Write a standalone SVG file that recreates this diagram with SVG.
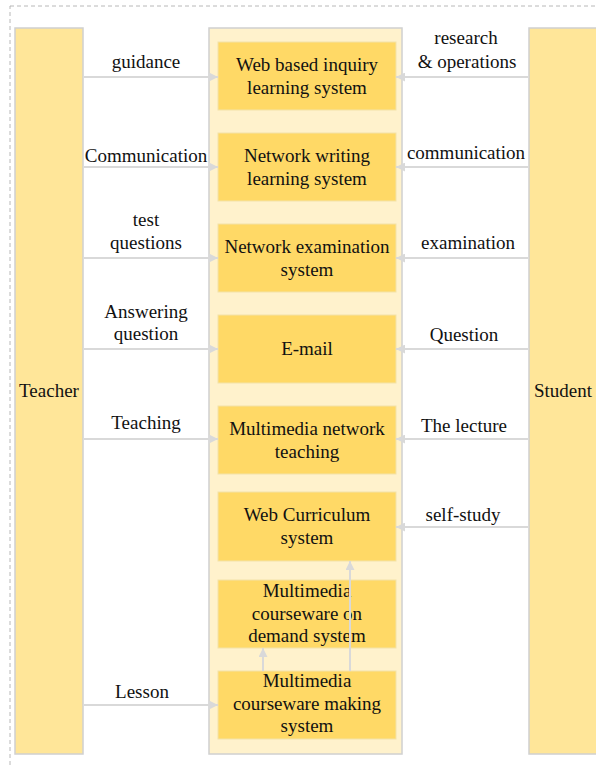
<svg xmlns="http://www.w3.org/2000/svg" width="596" height="765" viewBox="0 0 596 765" font-family="'Liberation Serif', 'Times New Roman', Times, serif">
<defs>
<marker id="ah" viewBox="0 0 10 10" refX="10" refY="5" markerWidth="4.5" markerHeight="4.5" orient="auto" markerUnits="strokeWidth">
<path d="M0,0 L10,5 L0,10 z" fill="#d9d9d9"/>
</marker>
</defs>
<style>
text{font-family:'Liberation Serif','Times New Roman',Times,serif;font-size:19px;fill:#111;text-anchor:middle}
.actor{fill:#FFE699;stroke:#d0d0d0;stroke-width:1.5}
.cont{fill:#FFF2CC;stroke:#d0d0d0;stroke-width:1.5}
.box{fill:#FFD966;stroke:#F3E2A8;stroke-width:1}
.conn{stroke:#d9d9d9;stroke-width:2;fill:none;marker-end:url(#ah)}
</style>
<rect x="10" y="6" width="600" height="770" fill="none" stroke="#b8b8b8" stroke-width="1" stroke-dasharray="4,3"/>
<g id="teacher">
<rect class="actor" x="15" y="28" width="68" height="726"/>
<text x="49" y="397">Teacher</text>
</g>
<g id="student">
<rect class="actor" x="529" y="28" width="80" height="726"/>
<text x="563" y="397">Student</text>
</g>
<g id="platform">
<rect class="cont" x="209" y="28" width="193" height="726"/>
</g>
<g id="box1">
<rect class="box" x="218" y="42" width="178" height="68"/>
<text x="307" y="71">Web based inquiry</text>
<text x="307" y="94">learning system</text>
</g>
<g id="box2">
<rect class="box" x="218" y="133" width="178" height="68"/>
<text x="307" y="162">Network writing</text>
<text x="307" y="185">learning system</text>
</g>
<g id="box3">
<rect class="box" x="218" y="224" width="178" height="68"/>
<text x="307" y="253">Network examination</text>
<text x="307" y="276">system</text>
</g>
<g id="box4">
<rect class="box" x="218" y="315" width="178" height="68"/>
<text x="307" y="355">E-mail</text>
</g>
<g id="box5">
<rect class="box" x="218" y="406" width="178" height="68"/>
<text x="307" y="435">Multimedia network</text>
<text x="307" y="458">teaching</text>
</g>
<g id="box6">
<rect class="box" x="218" y="492" width="178" height="69"/>
<text x="307" y="521">Web Curriculum</text>
<text x="307" y="544">system</text>
</g>
<g id="box7">
<rect class="box" x="218" y="580" width="178" height="68"/>
<text x="307" y="597">Multimedia</text>
<text x="307" y="620">courseware on</text>
<text x="307" y="642">demand system</text>
</g>
<g id="box8">
<rect class="box" x="218" y="671" width="178" height="68"/>
<text x="307" y="687">Multimedia</text>
<text x="307" y="710">courseware making</text>
<text x="307" y="732">system</text>
</g>
<g id="connectors">
<line class="conn" x1="84" y1="77" x2="218" y2="77"/>
<line class="conn" x1="84" y1="167" x2="218" y2="167"/>
<line class="conn" x1="84" y1="258" x2="218" y2="258"/>
<line class="conn" x1="84" y1="349" x2="218" y2="349"/>
<line class="conn" x1="84" y1="439" x2="218" y2="439"/>
<line class="conn" x1="84" y1="705" x2="218" y2="705"/>
<line class="conn" x1="528" y1="77" x2="396" y2="77"/>
<line class="conn" x1="528" y1="167" x2="396" y2="167"/>
<line class="conn" x1="528" y1="258" x2="396" y2="258"/>
<line class="conn" x1="528" y1="349" x2="396" y2="349"/>
<line class="conn" x1="528" y1="439" x2="396" y2="439"/>
<line class="conn" x1="528" y1="527" x2="396" y2="527"/>
<line class="conn" x1="263" y1="671" x2="263" y2="648"/>
<line class="conn" x1="350" y1="671" x2="350" y2="561"/>
<text x="146" y="68">guidance</text>
<text x="146" y="162">Communication</text>
<text x="146" y="226">test</text>
<text x="146" y="249">questions</text>
<text x="146" y="318">Answering</text>
<text x="146" y="340">question</text>
<text x="146" y="429">Teaching</text>
<text x="142" y="698">Lesson</text>
<text x="466" y="44">research</text>
<text x="467" y="68">&amp; operations</text>
<text x="466" y="159">communication</text>
<text x="468" y="249">examination</text>
<text x="464" y="341">Question</text>
<text x="464" y="432">The lecture</text>
<text x="463" y="521">self-study</text>
</g>
</svg>
